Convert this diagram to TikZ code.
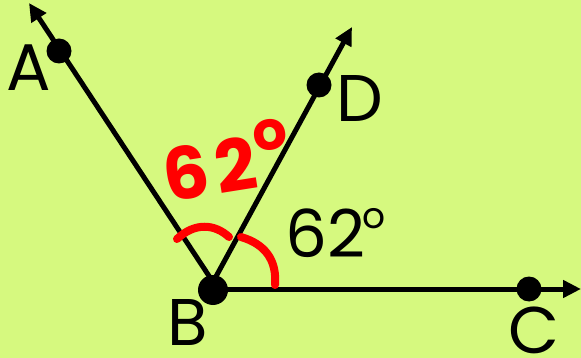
\documentclass[tikz,border=0pt]{standalone}
\usepackage{fontspec}
\setmainfont{Poppins}
\usetikzlibrary{arrows.meta}
\definecolor{bg}{RGB}{214,249,127}
\newcommand{\degsym}[2]{\raisebox{#2}{\fontsize{#1}{#1}\selectfont o}}
\begin{document}
\begin{tikzpicture}[x=1pt,y=-1pt,
  ray/.style={line width=5pt, -{Triangle[length=18pt,width=17pt]}},
  dotpt/.style={circle, fill=black, inner sep=0pt, minimum size=25pt},
  lbl/.style={font=\fontsize{66}{66}\selectfont, inner sep=0pt},
  redlbl/.style={font=\fontsize{72}{72}\selectfont\bfseries, text=red, inner sep=0pt},
  arcmark/.style={red, line width=8pt, line cap=round}]
\fill[bg] (0,0) rectangle (581,358);
\useasboundingbox (0,0) rectangle (581,358);
% vertex and ray ends
\coordinate (V) at (213,282);
\coordinate (tA) at (29,3);
\coordinate (tD) at (352,27);
\coordinate (tC) at (581,289);
% rays
\draw[ray] (V) -- (tA);
\draw[ray] (V) -- (tD);
\draw[ray] (213,289) -- (tC);
% points
\node[dotpt] (A) at (59,51) {};
\node[dotpt] (D) at (319,85) {};
\node[dotpt] (C) at (529,289) {};
\node[dotpt, minimum width=30pt, minimum height=25pt] (B) at (213,290) {};
% point labels
\node[lbl] (lA) at (29,68) {A};
\node[lbl] (lB) at (188,322) {B};
\node[lbl] (lD) at (360,99) {D};
\node[lbl] (lC) at (534,330) {C};
% angle marks
\draw[arcmark] (177,239) .. controls (195,222) and (215,224) .. (229,237);
\draw[arcmark] (241,237) .. controls (265,244) and (277,260) .. (275,285);
% angle labels
\node[lbl, anchor=base west] (ang) at (285,258) {62\kern-3pt\degsym{36pt}{29pt}};
\node[redlbl, rotate=9, anchor=base west] (rang) at (167,203) {6\kern7pt2\kern1pt\degsym{54pt}{36pt}};
\end{tikzpicture}
\end{document}
